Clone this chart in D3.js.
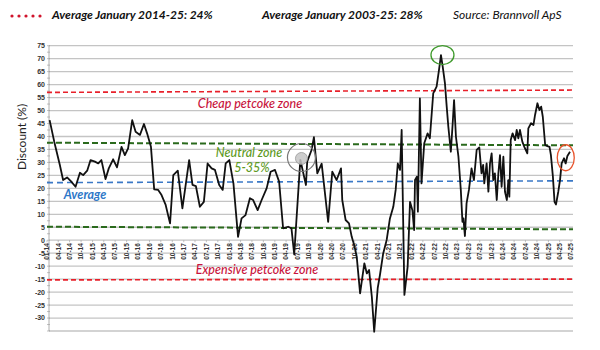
<!DOCTYPE html>
<html><head><meta charset="utf-8">
<script src="https://cdn.jsdelivr.net/npm/d3@7"></script>
<style>body{margin:0;background:#fff}svg{display:block}</style>
</head><body>
<svg id="c" width="600" height="350"></svg>
<script>
const dates = ["2014-01-22","2014-02-28","2014-04-14","2014-05-10","2014-06-11","2014-07-11","2014-08-18","2014-09-22","2014-10-18","2014-11-19","2014-12-16",
"2015-01-20","2015-02-16","2015-03-13","2015-04-15","2015-05-11","2015-06-15","2015-07-16","2015-08-21","2015-09-17","2015-10-13","2015-11-15","2015-12-12",
"2016-01-16","2016-02-17","2016-03-13","2016-04-13","2016-05-09","2016-06-10","2016-07-07","2016-08-09","2016-09-13","2016-10-09","2016-11-14","2016-12-21",
"2017-02-13","2017-03-12","2017-04-08","2017-05-10","2017-06-11","2017-07-11","2017-08-12","2017-09-08","2017-10-12","2017-11-09","2017-12-03",
"2018-01-01","2018-02-03","2018-03-12","2018-04-09","2018-05-11","2018-06-15","2018-07-11","2018-08-16","2018-09-17","2018-10-27","2018-11-28",
"2019-01-02","2019-02-04","2019-03-08","2019-04-17","2019-05-14","2019-06-05","2019-07-24","2019-09-07","2019-09-17","2019-10-22","2019-11-10","2019-12-07",
"2020-01-11","2020-03-03","2020-04-05","2020-05-10","2020-06-14","2020-06-24","2020-07-21","2020-08-17","2020-09-08","2020-09-28","2020-10-18","2020-11-14","2020-11-27","2020-12-18",
"2021-01-07","2021-01-25","2021-02-16","2021-03-07","2021-04-04","2021-04-22","2021-05-18","2021-06-15","2021-07-11","2021-08-07","2021-08-26","2021-09-12","2021-09-30","2021-10-13","2021-11-04","2021-11-30","2021-12-19",
"2022-01-07","2022-01-21","2022-01-28","2022-02-12","2022-02-20","2022-03-08","2022-03-21","2022-04-12","2022-05-09","2022-05-27","2022-06-23","2022-07-20","2022-08-08","2022-08-24","2022-09-07","2022-09-25","2022-10-09","2022-10-22","2022-11-11","2022-11-26","2022-12-07","2022-12-22",
"2023-01-11","2023-01-30","2023-02-12","2023-02-20","2023-03-04","2023-03-17","2023-04-05","2023-04-26","2023-05-15","2023-06-06","2023-06-27","2023-07-15","2023-07-28","2023-08-06","2023-08-25","2023-09-08","2023-09-21","2023-10-04","2023-10-17","2023-10-30","2023-11-14","2023-11-27","2023-12-10","2023-12-23",
"2024-01-06","2024-01-19","2024-02-03","2024-02-15","2024-02-23","2024-03-05","2024-03-20","2024-04-09","2024-04-22","2024-05-05","2024-05-18","2024-06-06","2024-06-22","2024-07-16","2024-07-24","2024-08-15","2024-09-03","2024-09-16","2024-10-05","2024-10-21","2024-11-04","2024-11-17","2024-12-06","2024-12-24",
"2025-01-10","2025-01-21","2025-02-06","2025-02-19","2025-03-03","2025-03-21","2025-04-04","2025-04-17","2025-05-06","2025-05-19","2025-06-02","2025-06-23"];
const discount = [46.3,38.0,29.0,23.2,24.2,22.8,20.6,26.0,25.1,26.8,30.9,
30.3,29.6,30.9,23.6,27.7,31.2,28.1,36.0,32.8,35.4,46.3,41.8,
40.6,44.8,41.2,36.0,19.6,19.4,17.4,13.6,6.5,25.1,26.8,12.3,
30.9,21.3,20.9,12.9,14.8,29.6,27.7,27.1,21.3,19.4,29.6,
30.9,21.9,1.3,8.4,9.7,16.2,15.5,11.6,15.5,20.0,26.4,
27.1,22.6,4.6,5.2,4.6,-5.5,31.0,21.3,30.3,34.8,39.7,25.8,
29.5,7.1,26.4,23.2,27.7,15.5,7.8,6.5,1.3,-1.9,-6.4,-20.5,-16.0,-8.9,
-12.8,-11.5,-21.8,-35.3,-18.5,-13.4,-5.1,0.1,8.4,12.9,19.4,29.6,27.1,42.5,-21.1,-10.2,14.8,
11.6,3.9,23.2,24.5,11.0,54.7,21.9,37.4,41.2,39.3,56.6,59.2,65.6,71.4,66.9,60.5,51.5,43.8,34.1,45.1,54.0,39.9,
32.2,19.4,7.1,8.4,1.6,14.2,19.4,27.7,23.2,34.8,35.8,25.8,29.0,21.9,29.6,18.7,29.6,33.5,23.2,25.8,15.5,25.8,32.8,20.6,
32.2,18.7,15.5,23.2,16.8,38.6,41.2,38.6,42.5,39.3,42.5,38.0,36.0,33.5,43.1,45.1,44.4,48.3,52.8,50.2,51.5,47.6,36.7,36.3,
36.0,32.8,24.5,14.8,13.8,18.7,23.2,29.6,31.6,29.6,32.5,34.1];

const yTicks = [75,70,65,60,55,50,45,40,35,30,25,20,15,10,5,0,-5,-10,-15,-20,-25,-30];
const yGrid = [75,70,65,60,55,50,45,40,35,30,25,20,15,10,5,0,-5,-10,-15,-20,-25,-30,-35];
const xDomain = ["2014-01-01","2025-07-01"];
const refNames = ["cheap","neutralHigh","average","neutralLow","expensive"];
const refStart = [57.0,37.6,22.2,5.2,-15.3];
const refEnd = [57.9,36.6,22.9,4.2,-15.0];
const headerTexts = ["Average January 2014-25: 24%","Average January 2003-25: 28%","Source: Brannvoll ApS"];
const zoneLabels = ["Cheap petcoke zone","Neutral zone","5-35%","Average","Expensive petcoke zone"];
const yTitle = "Discount (%)";
// highlighted points: [date, value]
const highlightGray = ["2019-08-02", 31.9];
const highlightPeak = ["2022-08-28", 71.4];
const highlightLast = ["2025-05-20", 31.8];

const parse = d3.timeParse("%Y-%m-%d");
const data = dates.map((d,i)=>({date:parse(d), v:discount[i]}));

const svg = d3.select("#c");
const x = d3.scaleTime().domain(xDomain.map(parse)).range([47,571]);
const y = d3.scaleLinear().domain([-35,75]).range([331,45.7]);
const gridL = 49, gridR = 573;

// gridlines
svg.append("g").selectAll("line").data(yGrid).join("line")
  .attr("x1",gridL).attr("x2",gridR).attr("y1",d=>y(d)).attr("y2",d=>y(d))
  .attr("stroke","#c4c4c4").attr("stroke-width",1.3);

// y axis line + ticks
svg.append("line").attr("x1",gridL).attr("x2",gridL).attr("y1",y(75)).attr("y2",y(-35))
  .attr("stroke","#999").attr("stroke-width",0.8);
const minor = d3.range(-35,75.1,2.5);
svg.append("g").selectAll("line").data(minor).join("line")
  .attr("x1",gridL-2).attr("x2",gridL+1).attr("y1",d=>y(d)).attr("y2",d=>y(d))
  .attr("stroke","#999").attr("stroke-width",0.6);
svg.append("g").selectAll("text").data(yTicks).join("text")
  .attr("x",gridL-4).attr("y",d=>y(d)).attr("dy","0.35em")
  .attr("text-anchor","end").attr("font-family","Liberation Sans, Arial, sans-serif")
  .attr("font-size",7).attr("font-weight","bold").attr("fill","#333").text(d=>d);

svg.append("text").attr("transform",`translate(22,137) rotate(-90)`)
  .attr("text-anchor","middle").attr("dy","0.35em")
  .attr("font-family","Lato, 'Open Sans', sans-serif").attr("font-size",12).attr("fill","#222")
  .text(yTitle);

// x tick labels
const xt = d3.timeMonth.every(3).range(parse(xDomain[0]), d3.timeDay.offset(parse(xDomain[1]),1));
const fmt = d3.timeFormat("%m-%y");
svg.append("g").selectAll("line").data(xt).join("line")
  .attr("x1",d=>x(d)).attr("x2",d=>x(d)).attr("y1",y(0)).attr("y2",y(0)+2)
  .attr("stroke","#999").attr("stroke-width",0.6);
svg.append("g").selectAll("text").data(xt).join("text")
  .attr("transform",d=>`translate(${x(d)},${y(0)+3}) rotate(-90)`)
  .attr("text-anchor","end").attr("dy","0.35em")
  .attr("font-family","Liberation Sans, Arial, sans-serif").attr("font-size",6.5)
  .attr("font-weight","bold").attr("fill","#333").text(d=>fmt(d));

// reference lines
const refColor = {cheap:"#e8202a",neutralHigh:"#2a6a1c",average:"#3a78c6",neutralLow:"#2a6a1c",expensive:"#e8202a"};
const refDash = {cheap:"5,3",neutralHigh:"6,3",average:"6,4",neutralLow:"6,3",expensive:"5,3"};
const refW = {cheap:1.6,neutralHigh:2,average:1.6,neutralLow:2,expensive:1.6};
svg.append("g").selectAll("line").data(refNames).join("line")
  .attr("x1",x(parse(xDomain[0]))).attr("x2",gridR)
  .attr("y1",(d,i)=>y(refStart[i])).attr("y2",(d,i)=>y(refEnd[i]))
  .attr("stroke",d=>refColor[d]).attr("stroke-dasharray",d=>refDash[d]).attr("stroke-width",d=>refW[d]);

// line
svg.append("path").datum(data)
  .attr("d",d3.line().x(d=>x(d.date)).y(d=>y(d.v)))
  .attr("fill","none").attr("stroke","#111").attr("stroke-width",1.8).attr("stroke-linejoin","round");

// highlights
const gx = x(parse(highlightGray[0])), gy = y(highlightGray[1]);
svg.append("circle").attr("cx",gx).attr("cy",gy).attr("r",14).attr("fill","none").attr("stroke","#777").attr("stroke-width",1.2);
svg.append("circle").attr("cx",gx).attr("cy",gy+1).attr("r",6).attr("fill","#c4c4c4").attr("fill-opacity",0.85).attr("stroke","#999").attr("stroke-width",0.8);
svg.append("ellipse").attr("cx",x(parse(highlightPeak[0]))+1).attr("cy",y(highlightPeak[1])).attr("rx",11.5).attr("ry",9.5)
  .attr("fill","none").attr("stroke","#3f9a2c").attr("stroke-width",1.3);
svg.append("ellipse").attr("cx",x(parse(highlightLast[0]))).attr("cy",y(highlightLast[1])).attr("rx",8.5).attr("ry",13)
  .attr("fill","none").attr("stroke","#e8532b").attr("stroke-width",1.3);

// zone labels
const lf = "Lato, 'Open Sans', sans-serif";
function lab(t,xx,yy,col,w){svg.append("text").attr("x",xx).attr("y",yy).attr("text-anchor","middle")
  .attr("font-family",lf).attr("font-style","italic").attr("font-weight",w).attr("font-size",12.5).attr("fill",col).text(t);}
lab(zoneLabels[0],250,108,"#c8143c",500);
lab(zoneLabels[1],249,157,"#5e9a24",500);
lab(zoneLabels[2],252,172,"#5e9a24",500);
lab(zoneLabels[3],85,199,"#2e78c8",700);
lab(zoneLabels[4],257,274,"#c8143c",500);

// header
svg.append("g").selectAll("circle").data(d3.range(5)).join("circle")
  .attr("cx",d=>12+d*7).attr("cy",16).attr("r",1.6).attr("fill","#d0142c");
const hx = [52,262,453], hw=[700,700,400];
headerTexts.forEach((t,i)=>svg.append("text").attr("x",hx[i]).attr("y",19)
  .attr("font-family",lf).attr("font-style","italic").attr("font-weight",hw[i]).attr("font-size",12)
  .attr("fill","#111").text(t));
</script>
</body></html>
